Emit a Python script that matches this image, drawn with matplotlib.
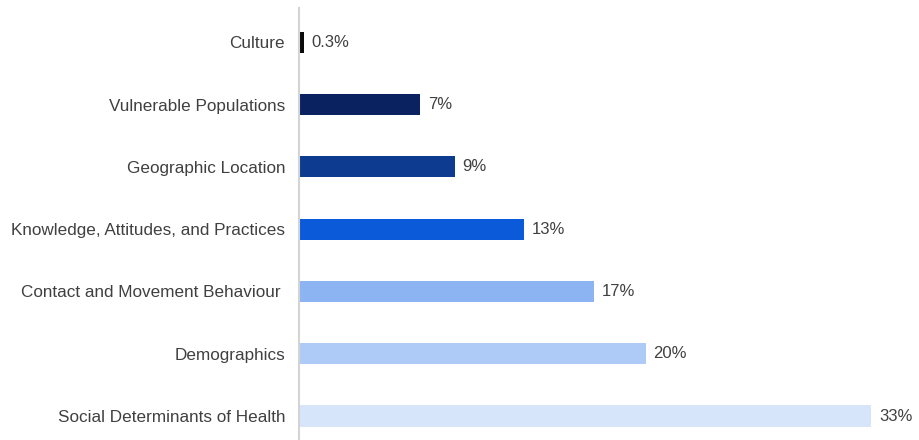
import matplotlib.pyplot as plt

categories = [
    'Culture',
    'Vulnerable Populations',
    'Geographic Location',
    'Knowledge, Attitudes, and Practices',
    'Contact and Movement Behaviour ',
    'Demographics',
    'Social Determinants of Health',
]
values = [0.3, 7, 9, 13, 17, 20, 33]
value_labels = ['0.3%', '7%', '9%', '13%', '17%', '20%', '33%']
colors = ['#0a0a0a', '#0b2260', '#0d3b90', '#0b5ad9', '#8cb3f2', '#aecbf7', '#d7e5fb']

plt.rcParams['font.family'] = ['Liberation Sans', 'DejaVu Sans']
text_color = '#404040'

fig = plt.figure(figsize=(9.19, 4.40), dpi=100)
ax = fig.add_axes([299 / 919, 0.0, 600 / 919, 432 / 440])

ypos = list(range(len(categories)))
ax.barh(ypos, values, height=0.34, color=colors)

for y, v, lab in zip(ypos, values, value_labels):
    ax.annotate(lab, (v, y), xytext=(5.5, 0), textcoords='offset points',
                va='center', ha='left', fontsize=12, color=text_color)

ax.set_xlim(0, 34.6)
ax.set_ylim(6.385, -0.55)
ax.set_yticks(ypos)
ax.set_yticklabels(categories, fontsize=12.3, color=text_color)
ax.tick_params(axis='y', length=0, pad=10)
ax.set_xticks([])

for side in ['top', 'right', 'bottom']:
    ax.spines[side].set_visible(False)
ax.spines['left'].set_color('#d4d4d4')
ax.spines['left'].set_linewidth(1.5)

plt.savefig('out.png', dpi=100)
